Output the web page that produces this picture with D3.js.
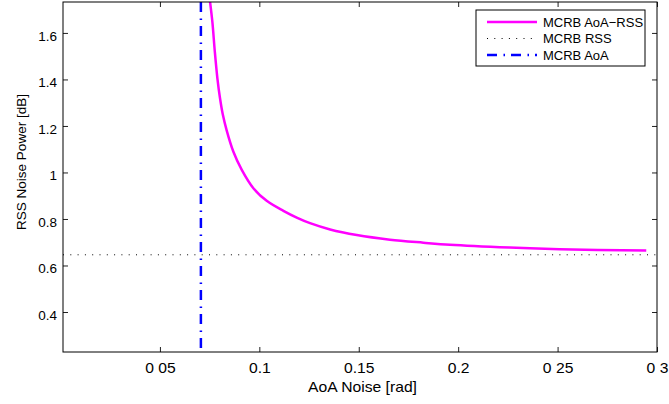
<!DOCTYPE html>
<html>
<head>
<meta charset="utf-8">
<script src="https://d3js.org/d3.v7.min.js"></script>
<style>
  * { margin: 0; padding: 0; }
  body { background: #fff; width: 669px; height: 404px; overflow: hidden; }
  svg { font-family: 'Liberation Sans', Arial, sans-serif; }
  .tick text { fill: #000; }
  .domain { display: none; }
  .tick line { stroke: #222; }
</style>
</head>
<body>
<div class="main"></div>
<script>
// data
const aoaNoise   = [0.0752, 0.0764, 0.0776, 0.0789, 0.0802, 0.0816, 0.0836, 0.0869, 0.0911, 0.0970, 0.1037, 0.1121, 0.1188, 0.1255, 0.1356, 0.1490, 0.1657, 0.1825, 0.1959, 0.2259, 0.2510, 0.2946];
const mcrbAoaRss = [1.734, 1.645, 1.520, 1.405, 1.320, 1.250, 1.180, 1.090, 1.012, 0.932, 0.878, 0.835, 0.806, 0.782, 0.755, 0.731, 0.711, 0.698, 0.689, 0.677, 0.670, 0.664];
const mcrbRss = 0.646;
const mcrbAoa = 0.0706;

const xTicks = [0.05, 0.1, 0.15, 0.2, 0.25, 0.3];
const xTickLabels = ["0 05", "0.1", "0.15", "0.2", "0 25", "0 3"];
const yTicks = [0.4, 0.6, 0.8, 1, 1.2, 1.4, 1.6];
const yTickLabels = ["0.4", "0.6", "0.8", "1", "1.2", "1.4", "1.6"];

const seriesNames = ["MCRB AoA\u2212RSS", "MCRB RSS", "MCRB AoA"];

const w = 669, h = 404;
const m = { left: 63, right: 657, top: 2, bottom: 352 };
const stretch = 1.12; // horizontal text looks a bit wide in the picture

const xScale = d3.scaleLinear().domain([0.00125, 0.3]).range([m.left, m.right]);
const yScale = d3.scaleLinear().domain([0.228, 1.733]).range([m.bottom, m.top]);

const svg = d3.select(".main").append("svg").attr("width", w).attr("height", h);

svg.append("defs").append("clipPath").attr("id", "clip")
  .append("rect").attr("x", m.left).attr("y", m.top).attr("width", m.right - m.left).attr("height", m.bottom - m.top);

// axes, MATLAB style ticks pointing inward
const xLab = d => xTickLabels[xTicks.indexOf(d)];
const yLab = d => yTickLabels[yTicks.indexOf(d)];

svg.append("g").attr("transform", "translate(0," + m.bottom + ")")
  .call(d3.axisBottom(xScale).tickValues(xTicks).tickFormat(xLab).tickSizeInner(-5).tickSizeOuter(0).tickPadding(11))
  .call(g => g.selectAll("text").attr("font-size", 14).attr("transform", "scale(" + stretch + ",1)"));
svg.append("g").attr("transform", "translate(0," + m.top + ")")
  .call(d3.axisTop(xScale).tickValues(xTicks).tickFormat("").tickSizeInner(-5).tickSizeOuter(0));
svg.append("g").attr("transform", "translate(" + m.left + ",0)")
  .call(d3.axisLeft(yScale).tickValues(yTicks).tickFormat(yLab).tickSizeInner(-5).tickSizeOuter(0).tickPadding(6))
  .call(g => g.selectAll("text").attr("font-size", 13.5).attr("dy", "0.55em"));
svg.append("g").attr("transform", "translate(" + m.right + ",0)")
  .call(d3.axisRight(yScale).tickValues(yTicks).tickFormat("").tickSizeInner(-5).tickSizeOuter(0));

// lines
const plot = svg.append("g").attr("clip-path", "url(#clip)");

plot.append("line")
  .attr("x1", m.left).attr("x2", m.right)
  .attr("y1", yScale(mcrbRss)).attr("y2", yScale(mcrbRss))
  .attr("stroke", "#000").attr("stroke-width", 1).attr("stroke-dasharray", "1,6.3");

plot.append("line")
  .attr("x1", xScale(mcrbAoa)).attr("x2", xScale(mcrbAoa))
  .attr("y1", m.top).attr("y2", m.bottom)
  .attr("stroke", "#0000ff").attr("stroke-width", 2.5).attr("stroke-dasharray", "10,6.5,1.5,6");

const line = d3.line()
  .x((d, i) => xScale(aoaNoise[i]))
  .y(d => yScale(d))
  .curve(d3.curveCatmullRom.alpha(0.5));

plot.append("path")
  .datum(mcrbAoaRss)
  .attr("d", line)
  .attr("fill", "none")
  .attr("stroke", "#ff00ff")
  .attr("stroke-width", 2.5);

// box
svg.append("rect")
  .attr("x", m.left).attr("y", m.top).attr("width", m.right - m.left).attr("height", m.bottom - m.top)
  .attr("fill", "none").attr("stroke", "#000").attr("stroke-width", 1);

// labels
svg.append("text")
  .attr("transform", "translate(362.5,392) scale(" + stretch + ",1)")
  .attr("text-anchor", "middle").attr("font-size", 14)
  .text("AoA Noise [rad]");

svg.append("text")
  .attr("transform", "translate(26,162) rotate(-90)")
  .attr("text-anchor", "middle").attr("font-size", 13.5)
  .text("RSS Noise Power [dB]");

// legend
const lg = svg.append("g").attr("transform", "translate(476,10)");
lg.append("rect").attr("width", 169).attr("height", 56)
  .attr("fill", "#fff").attr("stroke", "#000").attr("stroke-width", 1);

const styles = [
  { stroke: "#ff00ff", width: 2.5, dash: null },
  { stroke: "#000", width: 1, dash: "1,6.3" },
  { stroke: "#0000ff", width: 2.5, dash: "10,6.5,1.5,6" }
];

seriesNames.forEach((name, i) => {
  const yy = 12 + i * 16.5;
  lg.append("line")
    .attr("x1", 11).attr("x2", 61).attr("y1", yy).attr("y2", yy)
    .attr("stroke", styles[i].stroke).attr("stroke-width", styles[i].width)
    .attr("stroke-dasharray", styles[i].dash);
  lg.append("text")
    .attr("x", 67).attr("y", yy + 4.5)
    .attr("font-size", 13)
    .text(name);
});
</script>
</body>
</html>
